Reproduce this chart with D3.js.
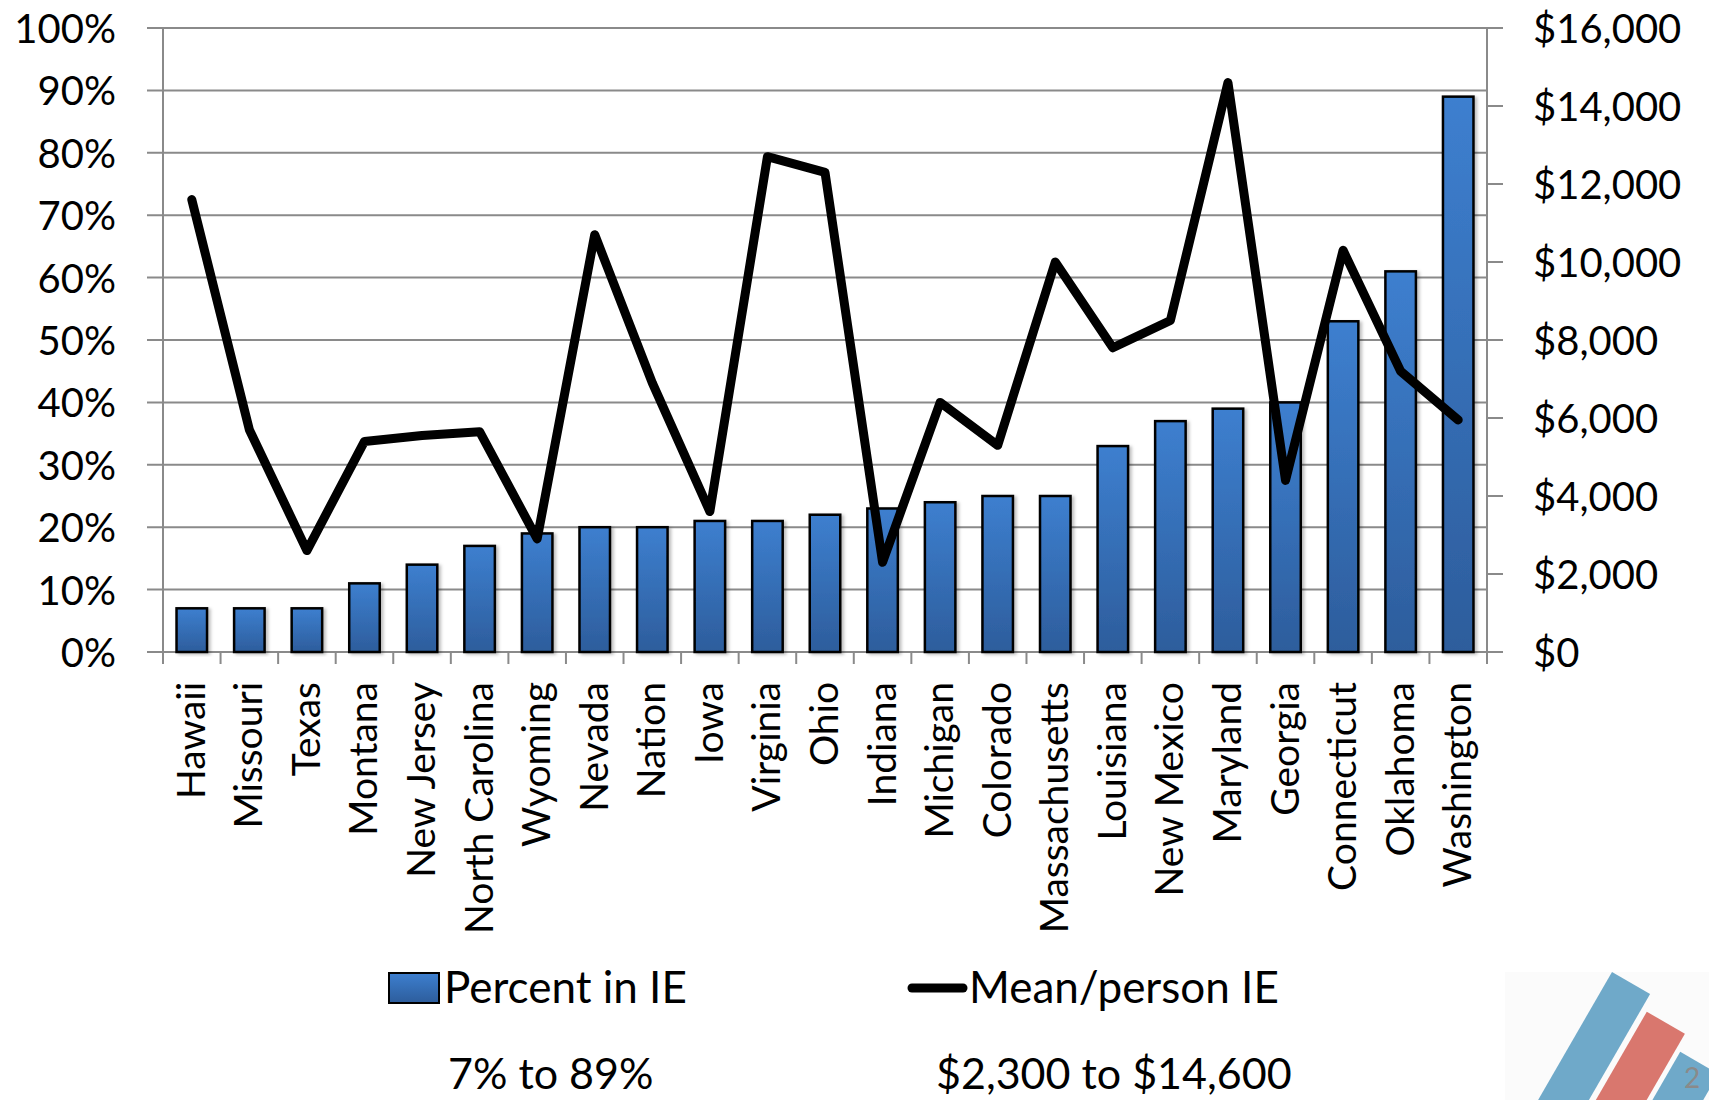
<!DOCTYPE html>
<html>
<head>
<meta charset="utf-8">
<script src="https://cdn.jsdelivr.net/npm/d3@7"></script>
<style>
  html, body { margin: 0; padding: 0; background: #ffffff; }
  svg { display: block; }
  text { font-family: Lato, "Open Sans", sans-serif; fill: #000; }
</style>
</head>
<body>
<svg id="chart" width="1709" height="1100"></svg>
<script>
// Categories (states + national figure), ordered by share in IE
const categories = ["Hawaii", "Missouri", "Texas", "Montana", "New Jersey", "North Carolina",
  "Wyoming", "Nevada", "Nation", "Iowa", "Virginia", "Ohio", "Indiana", "Michigan",
  "Colorado", "Massachusetts", "Louisiana", "New Mexico", "Maryland", "Georgia",
  "Connecticut", "Oklahoma", "Washington"];

// Percent in IE (bars, left axis)
const percentInIE = [0.07, 0.07, 0.07, 0.11, 0.14, 0.17, 0.19, 0.20, 0.20, 0.21, 0.21, 0.22,
  0.23, 0.24, 0.25, 0.25, 0.33, 0.37, 0.39, 0.40, 0.53, 0.61, 0.89];

// Mean dollars per person in IE (line, right axis)
const meanPerPerson = [11600, 5700, 2600, 5400, 5550, 5650, 2900, 10700, 6900, 3600, 12700,
  12300, 2300, 6400, 5300, 10000, 7800, 8500, 14600, 4400, 10300, 7200, 5950];

// Axis ticks
const leftTicks = [0, 0.1, 0.2, 0.3, 0.4, 0.5, 0.6, 0.7, 0.8, 0.9, 1.0];
const rightTicks = [0, 2000, 4000, 6000, 8000, 10000, 12000, 14000, 16000];

// Legend / summary text
const seriesNames = ["Percent in IE", "Mean/person IE"];
const rangeNotes = ["7% to 89%", "$2,300 to $14,600"];

const svg = d3.select("#chart");
const plotLeft = 163, plotRight = 1487, plotTop = 28, plotBottom = 652;
const gridColor = "#8a8a8a";

const x = d3.scaleBand().domain(categories).range([plotLeft, plotRight])
  .paddingInner(0.47).paddingOuter(0.235);
const yL = d3.scaleLinear().domain([0, 1]).range([plotBottom, plotTop]);
const yR = d3.scaleLinear().domain([0, 16000]).range([plotBottom, plotTop]);

// Bar fill gradient and soft shadow
const defs = svg.append("defs");
const grad = defs.append("linearGradient").attr("id", "barFill")
  .attr("x1", 0).attr("y1", 0).attr("x2", 0).attr("y2", 1);
grad.append("stop").attr("offset", "0%").attr("stop-color", "#3d7fcf");
grad.append("stop").attr("offset", "100%").attr("stop-color", "#2d5d9c");
const shadow = defs.append("filter").attr("id", "barShadow")
  .attr("x", "-20%").attr("y", "-5%").attr("width", "150%").attr("height", "115%");
shadow.append("feDropShadow").attr("dx", 2.5).attr("dy", 1.5)
  .attr("stdDeviation", 1.5).attr("flood-color", "#000").attr("flood-opacity", 0.25);

// Horizontal gridlines (left axis), with outward tick stubs
svg.append("g").selectAll("line").data(leftTicks).join("line")
  .attr("x1", plotLeft - 16).attr("x2", plotRight)
  .attr("y1", d => yL(d)).attr("y2", d => yL(d))
  .attr("stroke", gridColor).attr("stroke-width", 2);

// Left axis labels
svg.append("g").selectAll("text").data(leftTicks).join("text")
  .attr("x", 116).attr("y", d => yL(d))
  .attr("text-anchor", "end").attr("dominant-baseline", "central")
  .attr("font-size", 40)
  .text(d => d3.format(".0%")(d));

// Vertical axis lines
[plotLeft, plotRight].forEach(px => {
  svg.append("line").attr("x1", px).attr("x2", px).attr("y1", plotTop).attr("y2", plotBottom + 12)
    .attr("stroke", gridColor).attr("stroke-width", 2);
});

// Right axis ticks and labels
svg.append("g").selectAll("line").data(rightTicks).join("line")
  .attr("x1", plotRight).attr("x2", plotRight + 16)
  .attr("y1", d => yR(d)).attr("y2", d => yR(d))
  .attr("stroke", gridColor).attr("stroke-width", 2);
svg.append("g").selectAll("text").data(rightTicks).join("text")
  .attr("x", 1533).attr("y", d => yR(d))
  .attr("dominant-baseline", "central")
  .attr("font-size", 40)
  .text(d => "$" + d3.format(",")(d));

// Category boundary ticks along the bottom
const step = x.step();
const bounds = categories.map(c => x(c) + x.bandwidth() / 2 - step / 2).concat([plotRight]);
svg.append("g").selectAll("line").data(bounds).join("line")
  .attr("x1", d => d).attr("x2", d => d)
  .attr("y1", plotBottom).attr("y2", plotBottom + 12)
  .attr("stroke", gridColor).attr("stroke-width", 2);

// Bars
svg.append("g").selectAll("rect").data(categories).join("rect")
  .attr("x", c => x(c))
  .attr("y", (c, i) => yL(percentInIE[i]))
  .attr("width", x.bandwidth())
  .attr("height", (c, i) => plotBottom - yL(percentInIE[i]))
  .attr("fill", "url(#barFill)")
  .attr("stroke", "#000").attr("stroke-width", 2.5)
  .attr("filter", "url(#barShadow)");

// Mean/person line
const line = d3.line()
  .x((d, i) => x(categories[i]) + x.bandwidth() / 2)
  .y(d => yR(d));
svg.append("path").datum(meanPerPerson)
  .attr("d", line)
  .attr("fill", "none").attr("stroke", "#000").attr("stroke-width", 9)
  .attr("stroke-linejoin", "round").attr("stroke-linecap", "round");

// Category labels, rotated
svg.append("g").selectAll("text").data(categories).join("text")
  .attr("transform", c => `translate(${x(c) + x.bandwidth() / 2 + 13},682) rotate(-90)`)
  .attr("text-anchor", "end")
  .attr("font-size", 39)
  .text(c => c);

// Legend
svg.append("rect").attr("x", 389).attr("y", 973).attr("width", 50).attr("height", 30)
  .attr("fill", "url(#barFill)").attr("stroke", "#000").attr("stroke-width", 2);
svg.append("text").attr("x", 444).attr("y", 1003).attr("font-size", 44).text(seriesNames[0]);
svg.append("line").attr("x1", 912).attr("x2", 963).attr("y1", 988).attr("y2", 988)
  .attr("stroke", "#000").attr("stroke-width", 9).attr("stroke-linecap", "round");
svg.append("text").attr("x", 969).attr("y", 1003).attr("font-size", 44).text(seriesNames[1]);

// Range notes
svg.append("text").attr("x", 448).attr("y", 1089).attr("font-size", 43).text(rangeNotes[0]);
svg.append("text").attr("x", 936).attr("y", 1089).attr("font-size", 43).text(rangeNotes[1]);

// Corner logo mark with slide number
svg.append("rect").attr("x", 1505).attr("y", 972).attr("width", 204).attr("height", 128)
  .attr("fill", "#fbfbfb");
const logo = svg.append("g").attr("transform", "translate(1612,972) rotate(30)");
const logoBars = [
  { x: 0, y: 0, color: "#6fa9c9" },
  { x: 50, y: 17, color: "#d9776e" },
  { x: 99, y: 35, color: "#6fa9c9" }
];
logo.selectAll("rect").data(logoBars).join("rect")
  .attr("x", d => d.x).attr("y", d => d.y)
  .attr("width", 44).attr("height", 260)
  .attr("fill", d => d.color);
svg.append("text").attr("x", 1684).attr("y", 1088).attr("font-size", 28)
  .style("fill", "#8a8a8a").text("2");
</script>
</body>
</html>
